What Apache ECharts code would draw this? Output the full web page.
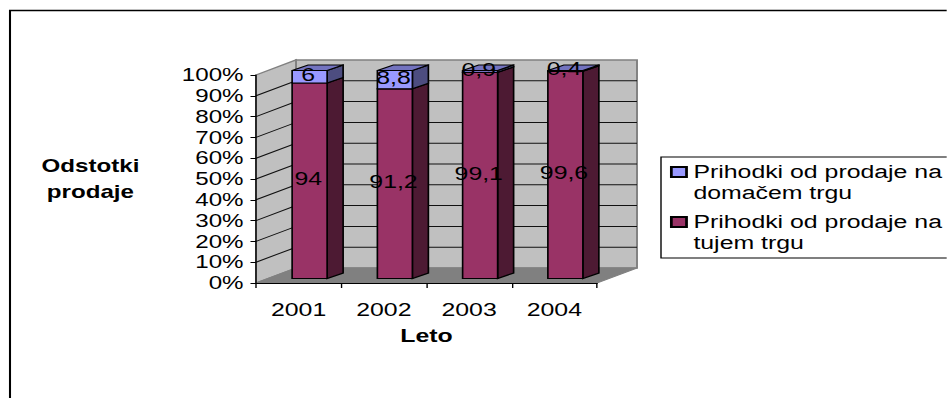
<!DOCTYPE html>
<html>
<head>
<meta charset="utf-8">
<style>
html,body{margin:0;padding:0;background:#fff;overflow:hidden;width:947px;height:398px}
#chart{position:absolute;left:0;top:0;transform-origin:0 0}
</style>
<script src="https://cdn.jsdelivr.net/npm/echarts@6/dist/echarts.min.js"></script>
</head>
<body>
<div id="chart"></div>
<script>
const categories = ['2001', '2002', '2003', '2004'];
const domesticShare = [6, 8.8, 0.9, 0.4];
const foreignShare = [94, 91.2, 99.1, 99.6];
const percentTicks = [0, 10, 20, 30, 40, 50, 60, 70, 80, 90, 100];
const seriesNames = ['Prihodki od prodaje na domačem trgu', 'Prihodki od prodaje na tujem trgu'];

// The whole drawing is laid out narrow and widened horizontally, as the wide lettering requires.
const K = 1.38;
const W = 947 / K, H = 398;
const el = document.getElementById('chart');
el.style.width = W + 'px';
el.style.height = H + 'px';
el.style.transform = 'scaleX(' + K + ')';
const chart = echarts.init(el, null, {renderer: 'svg', width: W, height: H});

const font = 'Liberation Sans, Arial, sans-serif';
const wallDepth = [40 / K, -15];     // front plane to back wall
const barDepth = [16 / K, -5.5];     // front face to rear face of a column
const barInset = [11 / K, -4.5];     // front plane to column front face
const barHalf = 17.5 / K;

const poly = (points, fill, stroke, lineWidth) => ({
  type: 'polygon', shape: {points},
  style: {fill, stroke: stroke || 'none', lineWidth: lineWidth || 1}
});

function renderWall(params, api) {
  const tick = api.value(0);
  const x0 = params.coordSys.x;
  const y = api.coord([0, tick])[1];
  const x1 = params.coordSys.x + params.coordSys.width;
  const [dx, dy] = wallDepth;
  const children = [];
  if (tick === 0) {
    const yTop = api.coord([0, 100])[1];
    const edge = '#808080';
    children.push(poly([[x0 + dx, yTop + dy], [x1 + dx, yTop + dy], [x1 + dx, y + dy], [x0 + dx, y + dy]], '#c0c0c0', edge, 1.4));
    children.push(poly([[x0, yTop], [x0 + dx, yTop + dy], [x0 + dx, y + dy], [x0, y]], '#c0c0c0', edge, 1.4));
    children.push(poly([[x0, y], [x0 + dx, y + dy], [x1 + dx, y + dy], [x1, y]], '#808080', '#808080', 1));
  } else if (tick < 100) {
    children.push({type: 'polyline', shape: {points: [[x0, y], [x0 + dx, y + dy], [x1 + dx, y + dy]]}, style: {fill: 'none', stroke: '#111', lineWidth: 1}});
  }
  return {type: 'group', children};
}

function columnRenderer(front, side, top) {
  return function (params, api) {
    const cat = api.value(0), from = api.value(1), to = api.value(2);
    const base = api.coord([cat, from]), tip = api.coord([cat, to]);
    const cx = base[0] + barInset[0];
    const yb = base[1] + barInset[1], yt = tip[1] + barInset[1];
    const l = cx - barHalf, r = cx + barHalf;
    const [dx, dy] = barDepth;
    const children = [
      poly([[r, yt], [r + dx, yt + dy], [r + dx, yb + dy], [r, yb]], side, '#000', 1.2),
      poly([[l, yt], [r, yt], [r, yb], [l, yb]], front, '#000', 1.2)
    ];
    if (to >= 100) {
      children.push(poly([[l, yt], [l + dx, yt + dy], [r + dx, yt + dy], [r, yt]], top, '#000', 1.2));
    }
    children.push({
      type: 'text',
      x: cx - 1, y: (yb + yt) / 2 - 2,
      style: {
        text: String(api.value(3)).replace('.', ','),
        fill: '#000', font: '18px ' + font, align: 'center', verticalAlign: 'middle'
      },
      z2: 50
    });
    return {type: 'group', children};
  };
}

const foreignData = categories.map((c, i) => [i, 0, foreignShare[i], foreignShare[i]]);
const domesticData = categories.map((c, i) => [i, foreignShare[i], 100, domesticShare[i]]);
const wrapName = n => n.replace(/ (\S+ \S+)$/, '\n$1');

chart.setOption({
  animation: false,
  backgroundColor: '#fff',
  graphic: [{
    type: 'rect', silent: true, z: -10,
    shape: {x: 10 / K, y: 10.5, width: 2000, height: 1000},
    style: {fill: 'none', stroke: '#000', lineWidth: 1.5}
  }],
  grid: {left: 256 / K, top: 75, width: 341 / K, height: 208},
  xAxis: {
    type: 'category', data: categories, z: 5,
    axisLine: {lineStyle: {color: '#000', width: 1.2}},
    axisTick: {show: true, length: 5, lineStyle: {color: '#000', width: 1}},
    axisLabel: {color: '#000', fontFamily: font, fontSize: 18, margin: 18},
    name: 'Leto', nameLocation: 'middle', nameGap: 44,
    nameTextStyle: {color: '#000', fontFamily: font, fontSize: 18, fontWeight: 'bold'}
  },
  yAxis: {
    type: 'value', min: 0, max: 100, interval: 10, z: 5,
    axisLine: {show: true, lineStyle: {color: '#000', width: 1}},
    axisTick: {show: true, length: 4, lineStyle: {color: '#000', width: 1}},
    splitLine: {show: false},
    axisLabel: {color: '#000', fontFamily: font, fontSize: 17.5, margin: 9, formatter: '{value}%'},
    name: 'Odstotki\nprodaje', nameLocation: 'middle', nameRotate: 0, nameGap: 120,
    nameTextStyle: {color: '#000', fontFamily: font, fontSize: 17.5, fontWeight: 'bold', lineHeight: 26, align: 'center', verticalAlign: 'middle'}
  },
  legend: {
    data: [seriesNames[0], seriesNames[1]],
    orient: 'vertical', left: 661 / K, top: 157,
    padding: [4.5, 14, 4.5, 6.5],
    itemWidth: 11, itemHeight: 31, itemGap: 8,
    symbolKeepAspect: false,
    borderColor: '#000', borderWidth: 1, backgroundColor: '#fff',
    // swatch sits in the upper part of the icon box, level with the first text line
    icon: 'path://M0,0H11V10H0Z M0,31L0,31',
    formatter: wrapName,
    textStyle: {color: '#000', fontFamily: font, fontSize: 18, lineHeight: 21}
  },
  series: [
    {
      type: 'custom', name: 'walls', z: 1, silent: true, clip: false,
      renderItem: renderWall, data: percentTicks.map(t => [t]),
      encode: {y: 0}
    },
    {
      type: 'custom', name: seriesNames[1], z: 3, silent: true, clip: false,
      renderItem: columnRenderer('#993366', '#4d1a33', '#7a2952'),
      data: foreignData, encode: {x: 0, y: [1, 2]},
      itemStyle: {color: '#993366', borderColor: '#000', borderWidth: 1.2}
    },
    {
      type: 'custom', name: seriesNames[0], z: 4, silent: true, clip: false,
      renderItem: columnRenderer('#9999ff', '#4d4d80', '#7373bf'),
      data: domesticData, encode: {x: 0, y: [1, 2]},
      itemStyle: {color: '#9999ff', borderColor: '#000', borderWidth: 1.2}
    }
  ]
});
</script>
</body>
</html>
